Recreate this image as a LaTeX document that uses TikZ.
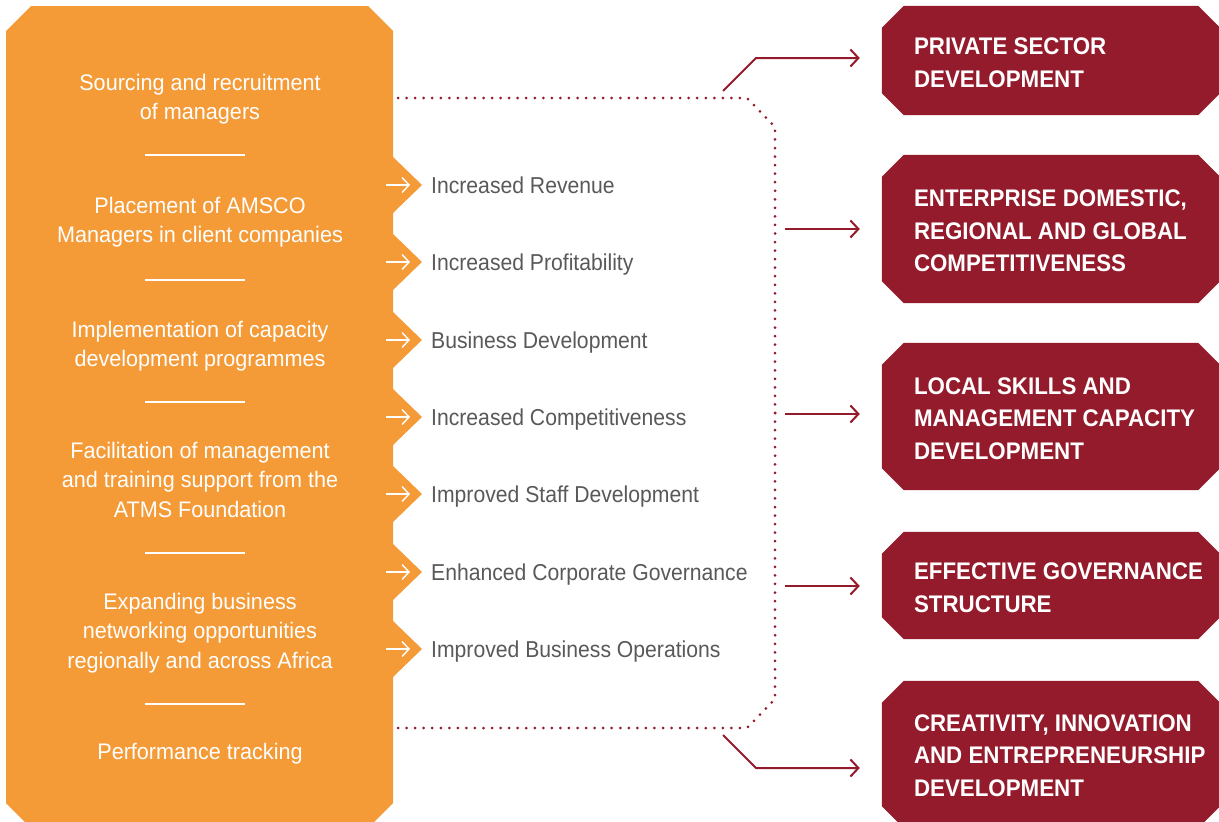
\documentclass[tikz,border=0pt]{standalone}
\usepackage{fontspec}
\setmainfont{Liberation Sans}
\newfontfamily\leftfont[FakeStretch=0.96]{Liberation Sans}
\newfontfamily\midfont[FakeStretch=0.92]{Liberation Sans}
\newfontfamily\boxfont[FakeStretch=0.93]{Liberation Sans}
\usetikzlibrary{arrows.meta,calc}
\definecolor{amsorange}{RGB}{244,155,56}
\definecolor{amsred}{RGB}{147,27,43}
\definecolor{amsgrey}{RGB}{88,89,91}
\newcommand\chamferfill[3]{%
  \fill[#3] ([yshift=-#2]#1.north west) -- ([xshift=#2]#1.north west) --
    ([xshift=-#2]#1.north east) -- ([yshift=-#2]#1.north east) --
    ([yshift=#2]#1.south east) -- ([xshift=-#2]#1.south east) --
    ([xshift=#2]#1.south west) -- ([yshift=#2]#1.south west) -- cycle;}
\tikzset{
  lefttext/.style={text=white, align=center, inner sep=0pt,
    font=\leftfont\fontsize{22.5}{29.5}\selectfont},
  midtext/.style={text=amsgrey, anchor=base west, inner sep=0pt,
    font=\midfont\fontsize{23}{28}\selectfont},
  boxtext/.style={text=white, align=left, anchor=west, inner sep=0pt,
    font=\boxfont\bfseries\fontsize{24}{32.5}\selectfont},
  boxnode/.style={rectangle, minimum width=338pt, minimum height=#1, inner sep=0pt},
  sepline/.style={white, line width=2pt},
  whitearrow/.style={white, line width=1.4pt, -{Straight Barb[length=7pt,width=15pt,line width=1.4pt]}},
  conn/.style={amsred, line width=2pt, shorten >=22pt,
    -{Straight Barb[length=8pt,width=17pt,line width=2pt]}},
  dots/.style={amsred, line width=3pt, line cap=round, dash pattern=on 0pt off 8.548pt},
}
\begin{document}
\begin{tikzpicture}[x=1pt,y=-1pt]
\useasboundingbox (0,0) rectangle (1219,822);
\clip (0,0) rectangle (1219,822);
\fill[white] (0,0) rectangle (1219,822);

% orange column with chevrons
\fill[amsorange] (6,31) -- (31,6) -- (368,6) -- (393,31)
  \foreach \p in {185,262,340,417,494,572,649} { -- (393,{\p-28}) -- (422,\p) -- (393,{\p+28}) }
  -- (393,803) -- (368,828) -- (31,828) -- (6,803) -- cycle;

% left texts
\node[lefttext] (l1) at (200,99) {\strut Sourcing and recruitment\\of managers\strut};
\node[lefttext] (l2) at (200,222) {\strut Placement of AMSCO\\Managers in client companies\strut};
\node[lefttext] (l3) at (200,346) {\strut Implementation of capacity\\development programmes\strut};
\node[lefttext] (l4) at (200,482) {\strut Facilitation of management\\and training support from the\\ATMS Foundation\strut};
\node[lefttext] (l5) at (200,633) {\strut Expanding business\\networking opportunities\\regionally and across Africa\strut};
\node[lefttext] (l6) at (200,754) {\strut Performance tracking\strut};
\foreach \y in {155,280,402,553,704} { \draw[sepline] (145,\y) -- (245,\y); }

% white arrows in chevrons and middle texts
\foreach \p [count=\i] in {185,262,340,417,494,572,649} {
  \coordinate (wa\i) at (386,\p);
  \coordinate (wb\i) at (410,\p);
  \draw[whitearrow] (wa\i) -- (wb\i);
}
\node[midtext] (r1) at (431,193) {Increased Revenue};
\node[midtext] (r2) at (431,270) {Increased Profitability};
\node[midtext] (r3) at (431,348) {Business Development};
\node[midtext] (r4) at (431,425) {Increased Competitiveness};
\node[midtext] (r5) at (431,502) {Improved Staff Development};
\node[midtext] (r6) at (431,580) {Enhanced Corporate Governance};
\node[midtext] (r7) at (431,657) {Improved Business Operations};

% dotted bracket (drawn from its middle outwards so both ends match)
\draw[dots] (775,413) -- (775,127) -- (747,98) -- (398,98);
\draw[dots] (775,413) -- (775,699) -- (747,728) -- (398,728);

% red boxes
\node[boxnode=109pt] (b1) at (1051,60.5) {};
\node[boxnode=148pt] (b2) at (1051,229) {};
\node[boxnode=147pt] (b3) at (1051,416.5) {};
\node[boxnode=107pt] (b4) at (1051,585.5) {};
\node[boxnode=147pt] (b5) at (1051,754.5) {};
\foreach \b in {b1,b2,b3,b4,b5} { \chamferfill{\b}{22pt}{amsred} }
\node[boxtext] (t1) at ([xshift=32pt,yshift=-2pt]b1.west) {PRIVATE SECTOR\\DEVELOPMENT};
\node[boxtext] (t2) at ([xshift=32pt,yshift=-2pt]b2.west) {ENTERPRISE DOMESTIC,\\REGIONAL AND GLOBAL\\COMPETITIVENESS};
\node[boxtext] (t3) at ([xshift=32pt,yshift=-2pt]b3.west) {LOCAL SKILLS AND\\MANAGEMENT CAPACITY\\DEVELOPMENT};
\node[boxtext] (t4) at ([xshift=32pt,yshift=-2pt]b4.west) {EFFECTIVE GOVERNANCE\\STRUCTURE};
\node[boxtext] (t5) at ([xshift=32pt,yshift=-1pt]b5.west) {CREATIVITY, INNOVATION\\AND ENTREPRENEURSHIP\\DEVELOPMENT};

% connectors
\coordinate (c1a) at (723,91);
\coordinate (c1b) at (756,58);
\draw[conn] (c1a) -- (c1b) -- (c1b -| b1.west);
\coordinate (c5a) at (723,735);
\coordinate (c5b) at (756,768);
\draw[conn] (c5a) -- (c5b) -- (c5b -| b5.west);
\coordinate (m2) at (785,229);
\coordinate (m3) at (785,414);
\coordinate (m4) at (785,586);
\draw[conn] (m2) -- (m2 -| b2.west);
\draw[conn] (m3) -- (m3 -| b3.west);
\draw[conn] (m4) -- (m4 -| b4.west);
\end{tikzpicture}
\end{document}
